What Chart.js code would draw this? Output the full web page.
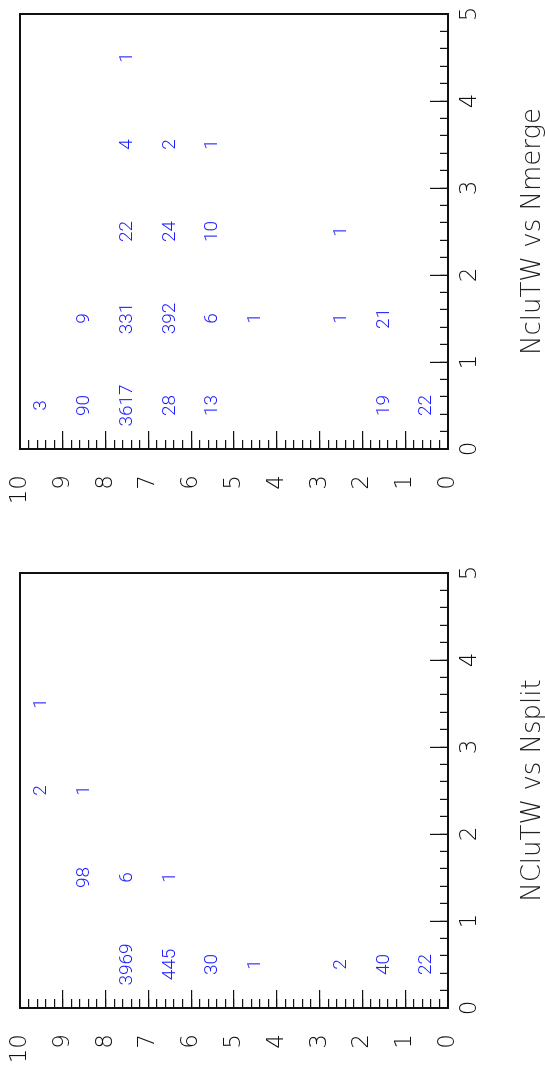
<!DOCTYPE html>
<html>
<head>
<meta charset="utf-8">
<script src="https://cdn.jsdelivr.net/npm/chart.js@4/dist/chart.umd.min.js"></script>
<style>
  html, body { margin: 0; padding: 0; background: #fff; overflow: hidden; }
  body { width: 545px; height: 1074px; position: relative; }
  /* the page is laid out landscape and turned a quarter turn counter-clockwise */
  #sheet {
    position: absolute; left: 0; top: 0;
    width: 1074px; height: 560px;
    display: flex;
    transform-origin: 0 0;
    transform: translateY(1074px) rotate(-90deg);
    background: #fff;
  }
  #sheet canvas { display: block; }
</style>
</head>
<body>
<div id="sheet">
  <canvas id="splitPad" width="537" height="560"></canvas>
  <canvas id="mergePad" width="537" height="560"></canvas>
</div>
<script>
// bin centres of the 2D histograms
const xCenters = [0.5, 1.5, 2.5, 3.5, 4.5];
const yCenters = [0.5, 1.5, 2.5, 3.5, 4.5, 5.5, 6.5, 7.5, 8.5, 9.5];

// entries per bin: one row per x bin, columns follow yCenters
const splitCounts = [
  [22, 40, 2, 0, 1, 30, 445, 3969, 0, 0],
  [0, 0, 0, 0, 0, 0, 1, 6, 98, 0],
  [0, 0, 0, 0, 0, 0, 0, 0, 1, 2],
  [0, 0, 0, 0, 0, 0, 0, 0, 0, 1],
  [0, 0, 0, 0, 0, 0, 0, 0, 0, 0]
];
const mergeCounts = [
  [22, 19, 0, 0, 0, 13, 28, 3617, 90, 3],
  [0, 21, 1, 0, 1, 6, 392, 331, 9, 0],
  [0, 0, 1, 0, 0, 10, 24, 22, 0, 0],
  [0, 0, 0, 0, 0, 1, 2, 4, 0, 0],
  [0, 0, 0, 0, 0, 0, 0, 1, 0, 0]
];

const xTicks = [0, 1, 2, 3, 4, 5];
const yTicks = [0, 1, 2, 3, 4, 5, 6, 7, 8, 9, 10];

const splitTitle = 'NCluTW vs Nsplit';
const mergeTitle = 'NcluTW vs Nmerge';

const axisFont = { family: '"DejaVu Sans", "Liberation Sans", sans-serif', weight: 200, size: 23 };
const titleFont = { family: '"DejaVu Sans", "Liberation Sans", sans-serif', weight: 200, size: 26 };
const INK = '#111';

// writes each non-empty bin's content at its bin centre
const binValues = {
  id: 'binValues',
  afterDatasetsDraw(chart) {
    const ctx = chart.ctx;
    const ds = chart.data.datasets[0];
    const meta = chart.getDatasetMeta(0);
    ctx.save();
    ctx.fillStyle = '#1f1fff';
    ctx.font = '300 19px Roboto, "Liberation Sans", Arial, sans-serif';
    ctx.textAlign = 'center';
    ctx.textBaseline = 'middle';
    meta.data.forEach((el, i) => {
      ctx.fillText(String(ds.data[i].v), el.x, el.y);
    });
    ctx.restore();
  }
};

function binPoints(counts) {
  const pts = [];
  counts.forEach((col, i) => {
    col.forEach((v, j) => {
      if (v > 0) pts.push({ x: xCenters[i], y: yCenters[j], v: v });
    });
  });
  return pts;
}

// keep end labels from pushing the plot frame inwards
function noEndPadding(s) {
  s.paddingTop = 0; s.paddingBottom = 0; s.paddingLeft = 0; s.paddingRight = 0;
}

function drawPad(id, counts, title, leftWidth, rightPad) {
  const xAxisHeight = 48;
  const titleLine = titleFont.size * 1.2;
  const titleBox = 560 - 448 - xAxisHeight;
  const titleTop = 533 - 448 - xAxisHeight - titleLine / 2;
  return new Chart(document.getElementById(id), {
    type: 'scatter',
    data: {
      datasets: [{
        data: binPoints(counts),
        pointRadius: 0,
        pointHoverRadius: 0,
        showLine: false
      }]
    },
    options: {
      responsive: false,
      animation: false,
      devicePixelRatio: 1,
      events: [],
      layout: { padding: { top: 20, right: rightPad, bottom: 0, left: 0 } },
      plugins: {
        legend: { display: false },
        tooltip: { enabled: false },
        title: {
          display: true,
          text: title,
          position: 'bottom',
          fullSize: false,
          color: '#222',
          font: titleFont,
          padding: { top: titleTop, bottom: titleBox - titleLine - titleTop }
        }
      },
      scales: {
        x: {
          type: 'linear', position: 'bottom', min: 0, max: 5,
          afterBuildTicks: s => { s.ticks = xTicks.map(v => ({ value: v })); },
          ticks: { padding: 26, autoSkip: false, maxRotation: 0, color: INK, font: axisFont },
          grid: { drawOnChartArea: false, drawTicks: true, tickLength: -18, color: INK, lineWidth: 1.2 },
          border: { display: true, color: INK, width: 2 },
          afterFit: s => { s.height = xAxisHeight; noEndPadding(s); }
        },
        y: {
          type: 'linear', position: 'left', min: 0, max: 10,
          afterBuildTicks: s => { s.ticks = yTicks.map(v => ({ value: v })); },
          ticks: { padding: 44, autoSkip: false, color: INK, font: axisFont },
          grid: { drawOnChartArea: false, drawTicks: true, tickLength: -18, color: INK, lineWidth: 1.2 },
          border: { display: true, color: INK, width: 2 },
          afterFit: s => { s.width = leftWidth; noEndPadding(s); }
        },
        xMinor: {
          type: 'linear', axis: 'x', position: { y: 0 }, min: 0, max: 5,
          ticks: { display: false, stepSize: 0.2 },
          grid: { drawOnChartArea: false, drawTicks: true, tickLength: -8, color: INK, lineWidth: 1.2 },
          border: { display: false },
          afterFit: noEndPadding
        },
        yMinor: {
          type: 'linear', axis: 'y', position: { x: 0 }, min: 0, max: 10,
          ticks: { display: false, stepSize: 0.2 },
          grid: { drawOnChartArea: false, drawTicks: true, tickLength: -9, color: INK, lineWidth: 1.2 },
          border: { display: false },
          afterFit: noEndPadding
        },
        xFrame: {
          type: 'linear', axis: 'x', position: 'top', min: 0, max: 5,
          ticks: { display: false },
          grid: { display: false, drawTicks: false },
          border: { display: true, color: INK, width: 2 },
          afterFit: s => { s.height = 0; noEndPadding(s); }
        },
        yFrame: {
          type: 'linear', axis: 'y', position: 'right', min: 0, max: 10,
          ticks: { display: false },
          grid: { display: false, drawTicks: false },
          border: { display: true, color: INK, width: 2 },
          afterFit: s => { s.width = 0; noEndPadding(s); }
        }
      }
    },
    plugins: [binValues]
  });
}

drawPad('splitPad', splitCounts, splitTitle, 66, 36);
drawPad('mergePad', mergeCounts, mergeTitle, 88, 14);
</script>
</body>
</html>
